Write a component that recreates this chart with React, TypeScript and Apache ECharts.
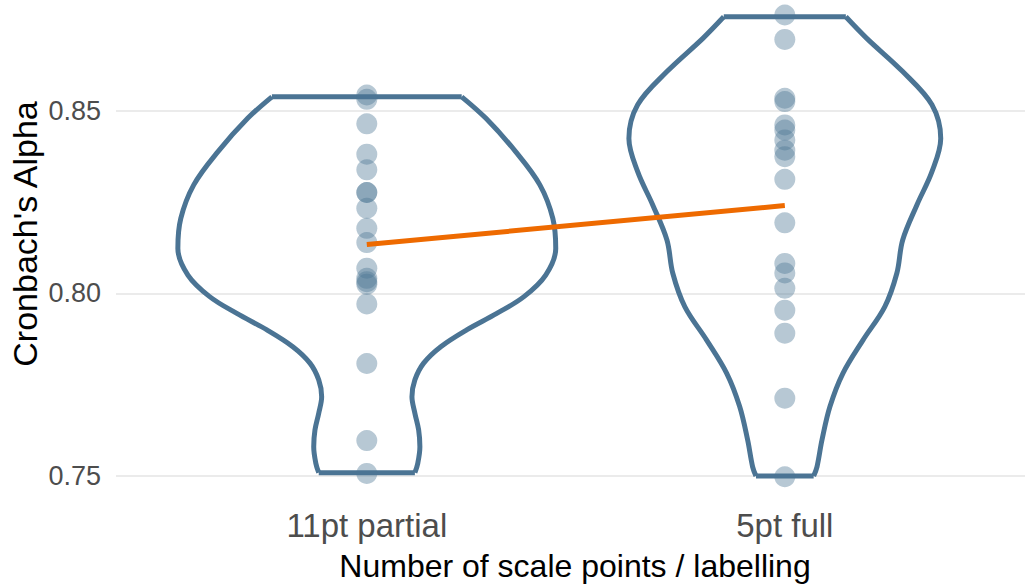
import React, { useEffect, useRef } from "react";
import * as echarts from "echarts";

const categories = ["11pt partial", "5pt full"];
const yTicks = [0.75, 0.8, 0.85];
const xTitle = "Number of scale points / labelling";
const yTitle = "Cronbach's Alpha";

// Cronbach's alpha values per condition
const alpha11pt = [
  0.8543, 0.8531, 0.8464, 0.8381, 0.8338, 0.8276, 0.8276, 0.8233, 0.8178,
  0.8139, 0.8069, 0.8041, 0.8032, 0.8025, 0.7971, 0.7808, 0.7597, 0.7507,
];
const alpha5pt = [
  0.8762, 0.8695, 0.8534, 0.8525, 0.8461, 0.8447, 0.842, 0.8392, 0.8374,
  0.8312, 0.8193, 0.8082, 0.8056, 0.8014, 0.7954, 0.7891, 0.7713, 0.7498,
];

// violin outlines: levels (bottom to top) and half-widths in category units
const violin11Levels = [
  0.7509, 0.7535, 0.758, 0.7626, 0.7672, 0.7717, 0.7763, 0.7809, 0.7854,
  0.79, 0.7945, 0.7991, 0.805, 0.8123, 0.8205, 0.8297, 0.8388, 0.8479, 0.8538,
];
const violin11Half = [
  0.115, 0.122, 0.127, 0.124, 0.115, 0.108, 0.115, 0.136, 0.177, 0.239, 0.311,
  0.376, 0.428, 0.452, 0.445, 0.414, 0.356, 0.285, 0.227,
];
const violin5Levels = [
  0.75, 0.7525, 0.7599, 0.769, 0.7781, 0.7872, 0.7963, 0.8055, 0.8146, 0.8242,
  0.8333, 0.8424, 0.8516, 0.8607, 0.8698, 0.8757,
];
const violin5Half = [
  0.069, 0.077, 0.089, 0.108, 0.139, 0.187, 0.239, 0.268, 0.282, 0.316, 0.352,
  0.373, 0.352, 0.282, 0.196, 0.146,
];

const VIOLIN_COLOR = "#4B7494";
const POINT_COLOR = "rgba(74,117,148,0.5)";
const MEAN_COLOR = "#EE6A00";

const mean = (a: number[]) => a.reduce((s, v) => s + v, 0) / a.length;

function violinSeries(center: number, levels: number[], half: number[]) {
  const left = levels.map((v, i) => [center - half[i], v]);
  const right = levels.map((v, i) => [center + half[i], v]);
  const n = levels.length - 1;
  const common = {
    type: "line",
    symbol: "none",
    silent: true,
    z: 2,
    lineStyle: { color: VIOLIN_COLOR, width: 5 },
  };
  return [
    { ...common, smooth: 0.35, data: left },
    { ...common, smooth: 0.35, data: right },
    {
      ...common,
      data: [
        [center - half[n], levels[n]],
        [center + half[n], levels[n]],
      ],
    },
    {
      ...common,
      data: [
        [center - half[0], levels[0]],
        [center + half[0], levels[0]],
      ],
    },
  ];
}

export default function App() {
  const ref = useRef<HTMLDivElement>(null);
  useEffect(() => {
    if (!ref.current) return;
    const chart = echarts.init(ref.current, null, { renderer: "svg" });
    const font = "'Liberation Sans', Arial, sans-serif";
    chart.setOption({
      animation: false,
      backgroundColor: "#ffffff",
      textStyle: { fontFamily: font },
      grid: { left: 116, right: 0, top: 5, bottom: 92, containLabel: false },
      xAxis: {
        type: "value",
        min: 0.4,
        max: 2.5746,
        axisLine: { show: false },
        axisTick: { show: false, customValues: [1, 2] },
        splitLine: { show: false },
        axisLabel: {
          customValues: [1, 2],
          formatter: (v: number) => categories[Math.round(v) - 1],
          fontSize: 33,
          color: "#4d4d4d",
          margin: 14,
          fontFamily: font,
        },
      },
      yAxis: {
        type: "value",
        min: 0.7448,
        max: 0.87893,
        axisLine: { show: false },
        axisTick: { show: false, customValues: yTicks },
        splitLine: { show: true, lineStyle: { color: "#ebebeb", width: 2 } },
        axisLabel: {
          customValues: yTicks,
          formatter: (v: number) => v.toFixed(2),
          fontSize: 27,
          color: "#4d4d4d",
          margin: 15,
          fontFamily: font,
        },
      },
      graphic: [
        {
          type: "text",
          x: 575,
          y: 566,
          style: {
            text: xTitle,
            fontSize: 32,
            fill: "#000000",
            fontFamily: font,
            align: "center",
            verticalAlign: "middle",
          },
        },
        {
          type: "text",
          x: 25,
          y: 234,
          rotation: Math.PI / 2,
          style: {
            text: yTitle,
            fontSize: 34,
            fill: "#000000",
            fontFamily: font,
            align: "center",
            verticalAlign: "middle",
          },
        },
      ],
      series: [
        ...violinSeries(1, violin11Levels, violin11Half),
        ...violinSeries(2, violin5Levels, violin5Half),
        {
          type: "scatter",
          symbolSize: 21,
          itemStyle: { color: POINT_COLOR },
          z: 3,
          data: alpha11pt.map((v) => [1, v]),
        },
        {
          type: "scatter",
          symbolSize: 21,
          itemStyle: { color: POINT_COLOR },
          z: 3,
          data: alpha5pt.map((v) => [2, v]),
        },
        {
          type: "line",
          symbol: "none",
          z: 4,
          lineStyle: { color: MEAN_COLOR, width: 5 },
          data: [
            [1, mean(alpha11pt)],
            [2, mean(alpha5pt)],
          ],
        },
      ],
    });
    return () => chart.dispose();
  }, []);
  return (
    <div
      ref={ref}
      style={{ position: "fixed", left: 0, top: 0, width: 1025, height: 587 }}
    />
  );
}
